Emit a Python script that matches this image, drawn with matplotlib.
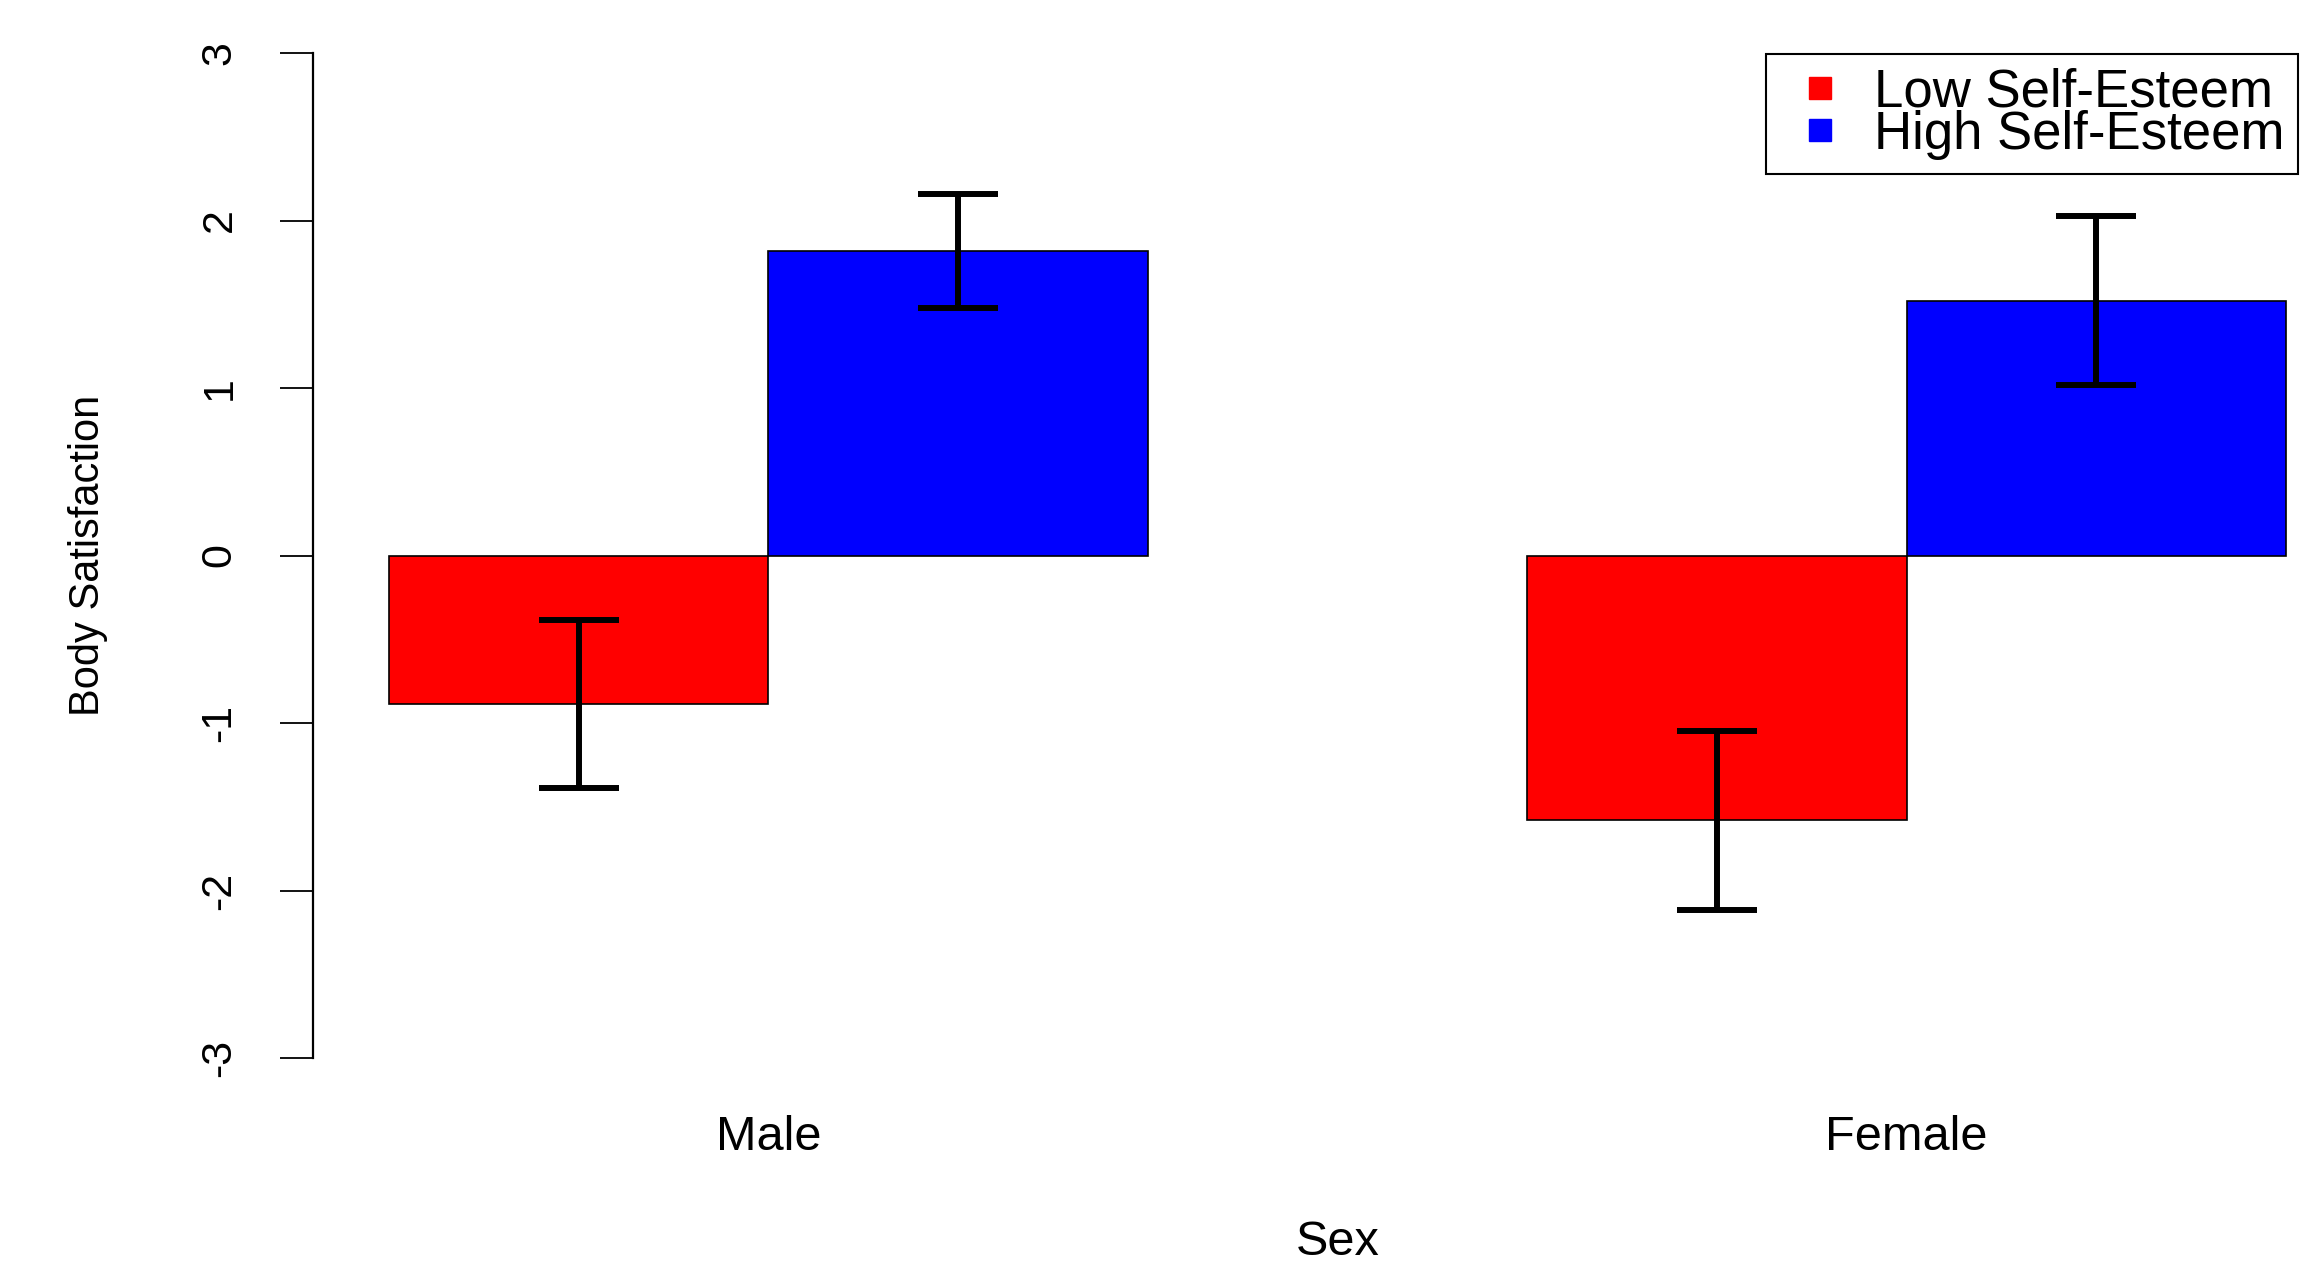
"""Body satisfaction by sex and self-esteem, grouped bar chart with error bars."""

import matplotlib.pyplot as plt
import numpy as np
from matplotlib.lines import Line2D

plt.rcParams["font.family"] = ["Liberation Sans", "DejaVu Sans"]
plt.rcParams["axes.unicode_minus"] = False

# group names and series
sexes = ["Male", "Female"]
series_names = ["Low Self-Esteem", "High Self-Esteem"]
series_colors = ["#FF0000", "#0000FF"]

# mean body satisfaction and error bar half-widths
low_means = np.array([-0.887, -1.58])
low_err = np.array([0.503, 0.535])
high_means = np.array([1.818, 1.52])
high_err = np.array([0.34, 0.505])

yticks = [-3, -2, -1, 0, 1, 2, 3]

W, H = 2305, 1261
fig = plt.figure(figsize=(W / 100, H / 100), dpi=100)
ax = fig.add_axes([313 / W, 1 - 1058 / H, 1 - 313 / W, (1058 - 53) / H])

# R-style beside barplot: space=c(0,1), bar width 1
centers = np.array([2.0, 5.0])
for means, errs, off, col in zip(
    [low_means, high_means], [low_err, high_err], [-0.5, 0.5], series_colors
):
    ax.bar(centers + off, means, width=1.0, color=col, edgecolor="black", linewidth=1.2)
    ax.errorbar(centers + off, means, yerr=errs, fmt="none", ecolor="black",
                elinewidth=4.3, capsize=29, capthick=4.3)

ax.set_xlim(0.8, 6.05)
ax.set_ylim(-3, 3)

# axes: only left spine like base R
for side in ["top", "right", "bottom"]:
    ax.spines[side].set_visible(False)
ax.spines["left"].set_linewidth(1.6)

ax.set_yticks(yticks)
ax.set_yticklabels([str(t) for t in yticks])
ax.tick_params(axis="y", length=24, width=1.3, pad=29, labelsize=31, labelrotation=90)
for lbl in ax.get_yticklabels():
    lbl.set_va("center")

ax.set_xticks(centers)
ax.set_xticklabels(sexes)
ax.tick_params(axis="x", length=0, pad=41, labelsize=35)

ax.set_xlabel("Sex", fontsize=35)
ax.xaxis.label.set_va("center")
ax.xaxis.set_label_coords(0.5146, -0.184)

ax.set_ylabel("Body Satisfaction", fontsize=30)
ax.yaxis.label.set_va("center")
ax.yaxis.set_label_coords(-0.113, 0.5)

# legend box, partly cut by the right edge as in the original
handles = [Line2D([], [], marker="s", linestyle="none", color=c, markersize=16)
           for c in series_colors]
leg = fig.legend(handles, series_names, loc="upper left",
                 bbox_to_anchor=(1766 / W, 1 - 54 / H), borderaxespad=0,
                 fontsize=38, borderpad=0.26, labelspacing=-0.148,
                 handlelength=1.53, handletextpad=0.25, fancybox=False,
                 framealpha=1, edgecolor="black")
leg.get_frame().set_linewidth(1.5)

fig.savefig("out.png", dpi=100)
